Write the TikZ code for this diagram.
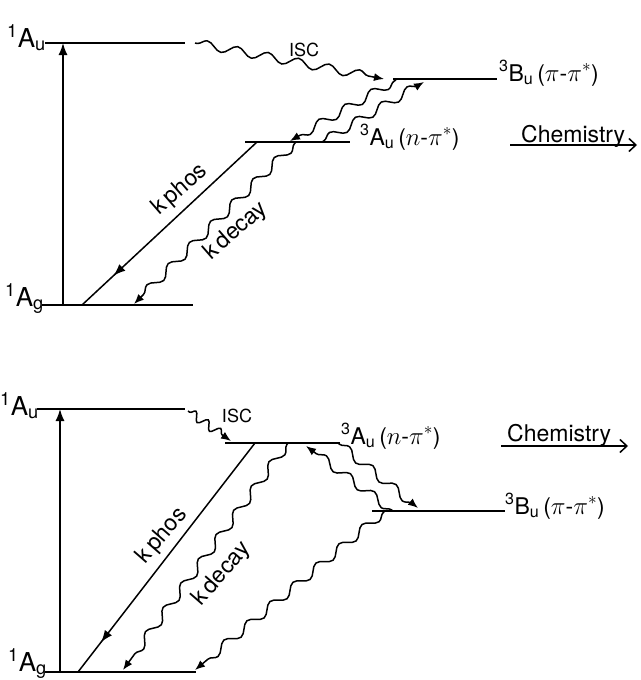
\documentclass[tikz,border=0pt]{standalone}
\usepackage{fontspec}
\setmainfont{TeX Gyre Heros}
\usetikzlibrary{arrows.meta,decorations.pathmorphing,decorations.markings}

\begin{document}
\begin{tikzpicture}[
			x=1pt, y=-1pt,
			livello/.style={line width=2.1pt},
			eccita/.style={-{Latex[length=12pt,width=9pt]}, line width=1.5pt},
			fosfo/.style={line width=1.5pt, postaction={decorate},
				decoration={markings, mark=at position #1 with {\arrow{Latex[length=12pt,width=9pt]}}}},
			ondina/.style={-{Latex[length=10pt,width=8pt]}, line width=1.5pt, decorate,
				decoration={snake, segment length=#1, amplitude=4.4pt, pre length=2pt, post length=7pt}},
			ondina/.default=30pt,
			chimica/.style={-{Straight Barb[length=7pt,width=13pt]}, line width=1.5pt},
			lab/.style={font=\fontsize{23}{26}\selectfont, inner sep=0pt},
			labS/.style={font=\fontsize{26}{30}\selectfont, inner sep=0pt},
			labp/.style={font=\fontsize{18}{20}\selectfont, inner sep=0pt},
			]
			
			\useasboundingbox (0,0) rectangle (640,680);
			
			%%═══ PANNELLO (a) — 3Bu sopra 3Au ══════════════════════════
			\begin{scope}
				% livelli energetici
				\coordinate (Su-a1) at (45,43);   \coordinate (Su-a2) at (185,43);
				\coordinate (Sg-a1) at (42,305);  \coordinate (Sg-a2) at (193,305);
				\coordinate (TB-a1) at (393,79);  \coordinate (TB-a2) at (497,79);
				\coordinate (TA-a1) at (245,142); \coordinate (TA-a2) at (350,142);
				\draw[livello] (Su-a1) -- (Su-a2);
				\draw[livello] (Sg-a1) -- (Sg-a2);
				\draw[livello] (TB-a1) -- (TB-a2);
				\draw[livello] (TA-a1) -- (TA-a2);
				% etichette dei livelli
				\node[labS, anchor=base west] (lSu-a) at (7,47) {\textsuperscript{1}A\textsubscript{u}};
				\node[labS, anchor=base west] (lSg-a) at (5,306) {\textsuperscript{1}A\textsubscript{g}};
				\node[lab, anchor=base west] (lTB-a) at (499,81) {\textsuperscript{3}B\textsubscript{u}\,($\pi$-$\pi^{*}$)};
				\node[lab, anchor=base west] (lTA-a) at (360,145) {\textsuperscript{3}A\textsubscript{u}\,($n$-$\pi^{*}$)};
				% eccitazione
				\coordinate (ecc-a0) at (63,305); \coordinate (ecc-a1) at (63,43);
				\draw[eccita] (ecc-a0) -- (ecc-a1);
				% isc
				\coordinate (isc-a0) at (195,43); \coordinate (isc-a1) at (384,79);
				\draw[ondina=31pt] (isc-a0) -- (isc-a1);
				\node[labp] (isc-a) at (304,50) {ISC};
				% scambio tra i due tripletti
				\coordinate (giu-a0) at (396,80);  \coordinate (giu-a1) at (290,141);
				\coordinate (su-a0) at (322,142);  \coordinate (su-a1) at (424,82);
				\draw[ondina] (giu-a0) -- (giu-a1);
				\draw[ondina] (su-a0) -- (su-a1);
				% fosforescenza e decadimento
				\coordinate (ph-a0) at (257,142); \coordinate (ph-a1) at (82,305);
				\draw[fosfo=0.82] (ph-a0) -- (ph-a1);
				\coordinate (dk-a0) at (296,142); \coordinate (dk-a1) at (134,304);
				\draw[ondina] (dk-a0) -- (dk-a1);
				\node[lab, rotate=41] (kph-a) at (180,190) {k\,phos};
				\node[lab, rotate=41] (kdc-a) at (236,231) {k\,decay};
				% chimica
				\coordinate (ch-a0) at (510,145); \coordinate (ch-a1) at (637,145);
				\draw[chimica] (ch-a0) -- (ch-a1);
				\node[lab, anchor=base west] (chm-a) at (521,142) {Chemistry};
			\end{scope}
			
			%%═══ PANNELLO (b) — 3Au sopra 3Bu ══════════════════════════
			\begin{scope}
				% livelli energetici
				\coordinate (Su-b1) at (37,409);  \coordinate (Su-b2) at (185,409);
				\coordinate (Sg-b1) at (45,672);  \coordinate (Sg-b2) at (196,672);
				\coordinate (TA-b1) at (225,443); \coordinate (TA-b2) at (340,443);
				\coordinate (TB-b1) at (372,511); \coordinate (TB-b2) at (505,511);
				\draw[livello] (Su-b1) -- (Su-b2);
				\draw[livello] (Sg-b1) -- (Sg-b2);
				\draw[livello] (TA-b1) -- (TA-b2);
				\draw[livello] (TB-b1) -- (TB-b2);
				% etichette dei livelli
				\node[labS, anchor=base west] (lSu-b) at (0,415) {\textsuperscript{1}A\textsubscript{u}};
				\node[labS, anchor=base west] (lSg-b) at (8,671) {\textsuperscript{1}A\textsubscript{g}};
				\node[lab, anchor=base west] (lTA-b) at (341,444) {\textsuperscript{3}A\textsubscript{u}\,($n$-$\pi^{*}$)};
				\node[lab, anchor=base west] (lTB-b) at (505,514) {\textsuperscript{3}B\textsubscript{u}\,($\pi$-$\pi^{*}$)};
				% eccitazione
				\coordinate (ecc-b0) at (60,672); \coordinate (ecc-b1) at (60,409);
				\draw[eccita] (ecc-b0) -- (ecc-b1);
				% isc
				\coordinate (isc-b0) at (188,411); \coordinate (isc-b1) at (231,441);
				\draw[ondina=15pt] (isc-b0) -- (isc-b1);
				\node[labp] (isc-b) at (237,416) {ISC};
				% scambio tra i due tripletti
				\coordinate (su-b0) at (393,511);  \coordinate (su-b1) at (306,446);
				\coordinate (giu-b0) at (338,443); \coordinate (giu-b1) at (418,508);
				\draw[ondina] (su-b0) -- (su-b1);
				\draw[ondina] (giu-b0) -- (giu-b1);
				% fosforescenza e decadimenti
				\coordinate (ph-b0) at (255,443); \coordinate (ph-b1) at (78,672);
				\draw[fosfo=0.87] (ph-b0) -- (ph-b1);
				\coordinate (dk-b0) at (288,443); \coordinate (dk-b1) at (123,670);
				\draw[ondina] (dk-b0) -- (dk-b1);
				\coordinate (dB-b0) at (385,511); \coordinate (dB-b1) at (195,670);
				\draw[ondina] (dB-b0) -- (dB-b1);
				\node[lab, rotate=49] (kph-b) at (162,536) {k\,phos};
				\node[lab, rotate=49] (kdc-b) at (222,574) {k\,decay};
				% chimica
				\coordinate (ch-b0) at (501,446); \coordinate (ch-b1) at (628,446);
				\draw[chimica] (ch-b0) -- (ch-b1);
				\node[lab, anchor=base west] (chm-b) at (507,441) {Chemistry};
			\end{scope}
			
		\end{tikzpicture}
\end{document}
